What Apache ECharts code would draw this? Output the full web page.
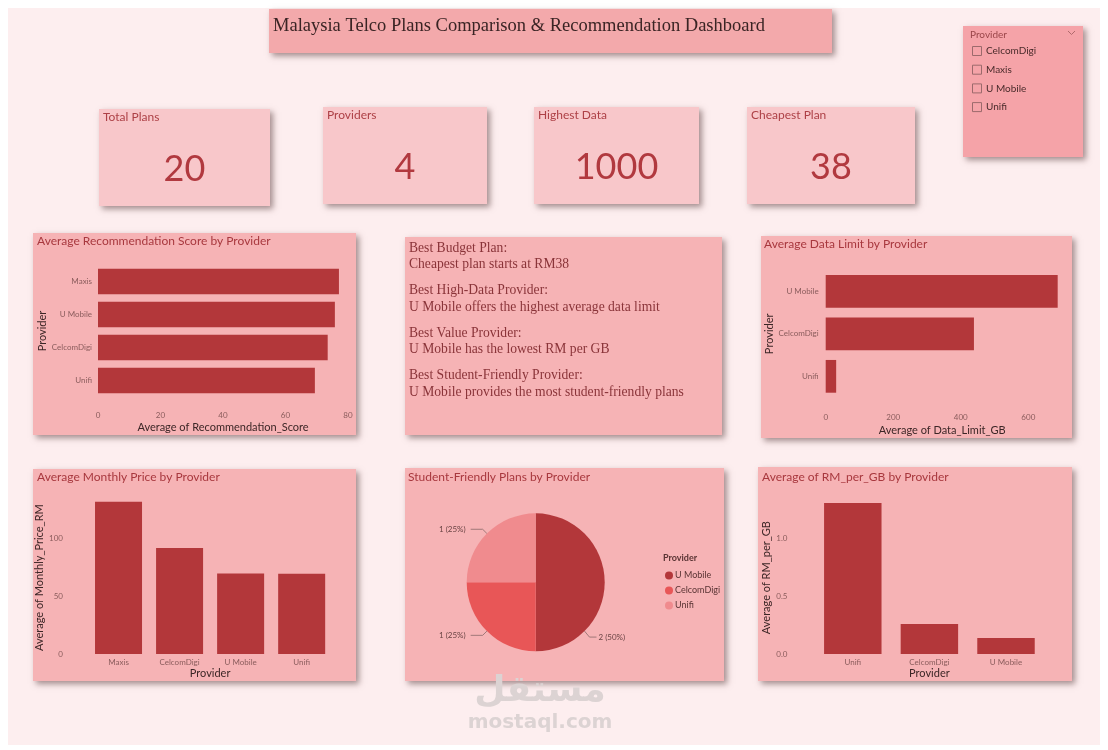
<!DOCTYPE html>
<html>
<head>
<meta charset="utf-8">
<title>Malaysia Telco Plans Dashboard</title>
<script src="https://cdn.jsdelivr.net/npm/echarts@6/dist/echarts.min.js"></script>
<style>
	html, body { margin: 0; padding: 0; background: #ffffff; }
	#container { width: 1108px; height: 750px; }
</style>
</head>
<body>
<div id="container"></div>
<script>
'use strict';

// ---- data ----
var kpiTitles = ['Total Plans', 'Providers', 'Highest Data', 'Cheapest Plan'];
var kpiValues = ['20', '4', '1000', '38'];

var slicerItems = ['CelcomDigi', 'Maxis', 'U Mobile', 'Unifi'];

var recProviders = ['Maxis', 'U Mobile', 'CelcomDigi', 'Unifi'];
var recScore = [77.1, 75.8, 73.5, 69.4];

var dataProviders = ['U Mobile', 'CelcomDigi', 'Unifi'];
var dataLimit = [687, 439, 31];

var priceProviders = ['Maxis', 'CelcomDigi', 'U Mobile', 'Unifi'];
var monthlyPrice = [131.6, 91.6, 69.5, 69.3];

var rmProviders = ['Unifi', 'CelcomDigi', 'U Mobile'];
var rmPerGb = [1.305, 0.259, 0.138];

var studentProviders = ['U Mobile', 'CelcomDigi', 'Unifi'];
var studentPlans = [2, 1, 1];

var insightLines = [
	['Best Budget Plan:', 'Cheapest plan starts at RM38'],
	['Best High-Data Provider:', 'U Mobile offers the highest average data limit'],
	['Best Value Provider:', 'U Mobile has the lowest RM per GB'],
	['Best Student-Friendly Provider:', 'U Mobile provides the most student-friendly plans']
];

// ---- styles ----
var SANS = 'Lato, "Open Sans", sans-serif';
var SERIF = '"Liberation Serif", "DejaVu Serif", serif';
var BAR = '#b3373a';
var PANEL = '#f6b3b5';
var KPI = '#f8c7ca';
var TITLE_RED = '#a8383e';
var LABEL = '#8a5c5c';
var NAME = '#3c2626';

var graphics = [];

// background of the report page
graphics.push({
	type: 'rect', z: 0, silent: true,
	shape: { x: 8, y: 8, width: 1092, height: 737 },
	style: { fill: '#fdeeef' }
});

function panel(x, y, w, h, fill) {
	graphics.push({
		type: 'rect', z: 1, silent: true,
		shape: { x: x, y: y, width: w, height: h },
		style: {
			fill: fill,
			shadowBlur: 6,
			shadowOffsetX: 3,
			shadowOffsetY: 3,
			shadowColor: 'rgba(90,60,60,0.55)'
		}
	});
}

function label(x, y, text, font, color, align) {
	graphics.push({
		type: 'text', z: 5, silent: true,
		style: {
			text: text,
			x: x,
			y: y,
			fill: color,
			font: font,
			verticalAlign: 'middle',
			align: align || 'left'
		}
	});
}

// header
panel(269, 9, 563, 44, '#f3a9ab');
label(273, 26, 'Malaysia Telco Plans Comparison & Recommendation Dashboard', '18.5px ' + SERIF, '#3a2424');

// slicer
panel(963, 26, 120, 131, '#f5a3a8');
label(970, 35, 'Provider', '10px ' + SANS, '#9a4649');
graphics.push({
	type: 'polyline', z: 5, silent: true,
	shape: { points: [[1068, 31], [1071.5, 34.5], [1075, 31]] },
	style: { stroke: '#b06a6c', lineWidth: 1, fill: null }
});
for (var i = 0; i < slicerItems.length; i++) {
	var sy = 51 + i * 18.7;
	graphics.push({
		type: 'rect', z: 5, silent: true,
		shape: { x: 972.5, y: sy - 4.5, width: 9, height: 9 },
		style: { fill: 'none', stroke: '#9c6a6c', lineWidth: 1 }
	});
	label(986, sy, slicerItems[i], '10px ' + SANS, '#4a2b2b');
}

// KPI cards
var kpiBoxes = [[99, 109, 171, 97], [323, 107, 164, 97], [534, 107, 165, 97], [747, 107, 168, 97]];
for (var k = 0; k < kpiBoxes.length; k++) {
	var b = kpiBoxes[k];
	panel(b[0], b[1], b[2], b[3], KPI);
	label(b[0] + 4, b[1] + 8, kpiTitles[k], '12px ' + SANS, '#ad4046');
	label(b[0] + b[2] / 2, b[1] + 60, kpiValues[k], '36px ' + SANS, '#b1393f', 'center');
}

// chart panels
panel(33, 233, 323, 202, PANEL);
panel(405, 237, 317, 198, PANEL);
panel(761, 236, 311, 202, PANEL);
panel(33, 469, 323, 212, PANEL);
panel(405, 468, 319, 213, PANEL);
panel(758, 467, 314, 214, PANEL);

label(37, 241, 'Average Recommendation Score by Provider', '12px ' + SANS, TITLE_RED);
label(764, 244, 'Average Data Limit by Provider', '12px ' + SANS, TITLE_RED);
label(37, 477, 'Average Monthly Price by Provider', '12px ' + SANS, TITLE_RED);
label(408, 477, 'Student-Friendly Plans by Provider', '12px ' + SANS, TITLE_RED);
label(762, 477, 'Average of RM_per_GB by Provider', '12px ' + SANS, TITLE_RED);

// insight text card
var ty = 248;
for (var t = 0; t < insightLines.length; t++) {
	label(409, ty, insightLines[t][0], '13.6px ' + SERIF, '#8a3439');
	label(409, ty + 16.5, insightLines[t][1], '13.6px ' + SERIF, '#8a3439');
	ty += 42.5;
}

// pie legend heading
label(663, 558, 'Provider', 'bold 9px ' + SANS, '#5a3434');

// watermark
label(540, 692, 'مستقل', 'bold 36px "DejaVu Sans", sans-serif', '#dcd3d3', 'center');
label(540, 723, 'mostaql.com', 'bold 20px "DejaVu Sans", sans-serif', '#dcd3d3', 'center');

// ---- axes helpers ----
function merge(ax, extra) {
	for (var k in extra) {
		if (k === 'axisLabel') {
			for (var j in extra.axisLabel) ax.axisLabel[j] = extra.axisLabel[j];
		} else {
			ax[k] = extra[k];
		}
	}
	return ax;
}

function valueAxis(idx, max, interval, extra) {
	return merge({
		type: 'value',
		gridIndex: idx,
		z: 10,
		min: 0,
		max: max,
		interval: interval,
		axisLine: { show: false },
		axisTick: { show: false },
		splitLine: { show: false },
		axisLabel: { color: LABEL, fontSize: 8, fontFamily: SANS, showMaxLabel: false },
		nameTextStyle: { color: NAME, fontSize: 11, fontFamily: SANS },
		nameLocation: 'middle'
	}, extra);
}

function categoryAxis(idx, data, extra) {
	return merge({
		type: 'category',
		gridIndex: idx,
		z: 10,
		data: data,
		axisLine: { show: false },
		axisTick: { show: false },
		axisLabel: { color: LABEL, fontSize: 8, fontFamily: SANS },
		nameTextStyle: { color: NAME, fontSize: 11, fontFamily: SANS },
		nameLocation: 'middle'
	}, extra);
}

var option = {
	animation: false,
	graphic: { elements: graphics },
	grid: [
		{ left: 98, top: 265, width: 250, height: 132 },
		{ left: 825.7, top: 270, width: 233, height: 127.6 },
		{ left: 88, top: 501.3, width: 244.2, height: 152.7 },
		{ left: 814.5, top: 501.3, width: 229.8, height: 152.7 }
	],
	xAxis: [
		valueAxis(0, 80, 20, {
			name: 'Average of Recommendation_Score', nameGap: 25,
			axisLabel: { margin: 14, showMaxLabel: true }
		}),
		valueAxis(1, 690, 200, {
			name: 'Average of Data_Limit_GB', nameGap: 27,
			axisLabel: { margin: 16 }
		}),
		categoryAxis(2, priceProviders, {
			name: 'Provider', nameGap: 13.5, axisLabel: { margin: 4 }
		}),
		categoryAxis(3, rmProviders, {
			name: 'Provider', nameGap: 13.5, axisLabel: { margin: 4 }
		})
	],
	yAxis: [
		categoryAxis(0, recProviders, {
			inverse: true, name: 'Provider', nameGap: 50, axisLabel: { margin: 6 }
		}),
		categoryAxis(1, dataProviders, {
			inverse: true, name: 'Provider', nameGap: 51, axisLabel: { margin: 7 }
		}),
		valueAxis(2, 132, 50, {
			name: 'Average of Monthly_Price_RM', nameGap: 38, axisLabel: { margin: 25 }
		}),
		valueAxis(3, 1.32, 0.5, {
			name: 'Average of RM_per_GB', nameGap: 40,
			axisLabel: { margin: 27, formatter: function(v) { return v.toFixed(1); } }
		})
	],
	legend: {
		orient: 'vertical',
		left: 660,
		top: 566,
		itemGap: 6,
		itemWidth: 8,
		itemHeight: 8,
		icon: 'circle',
		data: studentProviders,
		textStyle: { color: '#5a3434', fontSize: 9, fontFamily: SANS, padding: [0, 0, 0, -3] }
	},
	series: [{
		type: 'bar',
		xAxisIndex: 0,
		yAxisIndex: 0,
		data: recScore,
		barCategoryGap: '23%',
		itemStyle: { color: BAR }
	}, {
		type: 'bar',
		xAxisIndex: 1,
		yAxisIndex: 1,
		data: dataLimit,
		barCategoryGap: '23%',
		itemStyle: { color: BAR }
	}, {
		type: 'bar',
		xAxisIndex: 2,
		yAxisIndex: 2,
		data: monthlyPrice,
		barCategoryGap: '23%',
		itemStyle: { color: BAR }
	}, {
		type: 'bar',
		xAxisIndex: 3,
		yAxisIndex: 3,
		data: rmPerGb,
		barCategoryGap: '25%',
		itemStyle: { color: BAR }
	}, {
		name: 'Student-Friendly Plans',
		type: 'pie',
		center: [535.7, 582.3],
		radius: 69,
		startAngle: 90,
		data: studentProviders.map(function(p, i) {
			return { name: p, value: studentPlans[i] };
		}),
		color: ['#b3373a', '#e85657', '#f08b8e'],
		itemStyle: { borderWidth: 0 },
		label: {
			formatter: '{c} ({d}%)',
			color: '#6a4444',
			fontSize: 8,
			fontFamily: SANS
		},
		labelLine: {
			length: 6,
			length2: 12,
			lineStyle: { color: '#8a6a6a', width: 0.8 }
		},
		// the big slice's label sits low on the right, as in the report
		labelLayout: function(params) {
			if (params.dataIndex !== 0) return;
			var r = params.rect;
			var cx = r.x, cy = r.y + r.height / 2, rad = r.width;
			var a = Math.PI / 4;
			var p0 = [cx + rad * Math.cos(a), cy + rad * Math.sin(a)];
			var p1 = [p0[0] + 5, p0[1] + 6];
			var p2 = [p1[0] + 7, p1[1]];
			return {
				x: p2[0] + 2,
				y: p1[1],
				align: 'left',
				verticalAlign: 'middle',
				labelLinePoints: [p0, p1, p2]
			};
		}
	}]
};

var myChart = echarts.init(document.getElementById('container'));
myChart.setOption(option);
</script>
</body>
</html>
